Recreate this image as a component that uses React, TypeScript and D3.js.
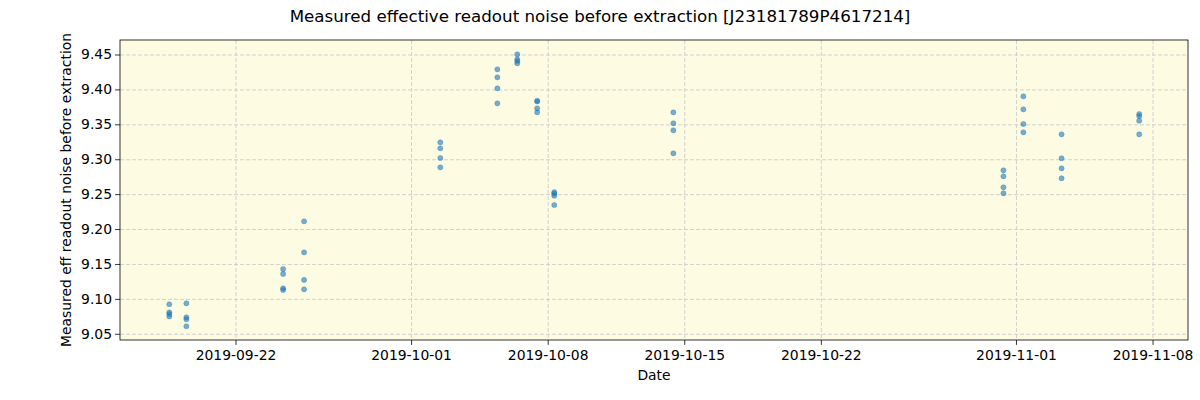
import React from "react";
import * as d3 from "d3";

const title = "Measured effective readout noise before extraction [J23181789P4617214]";
const xLabel = "Date";
const yLabel = "Measured eff readout noise before extraction";

const obsDates: string[] = [
  "2019-09-18T14:00", "2019-09-18T14:00", "2019-09-18T14:00", "2019-09-18T14:00",
  "2019-09-19T11:00", "2019-09-19T11:00", "2019-09-19T11:00", "2019-09-19T11:00",
  "2019-09-24T10:00", "2019-09-24T10:00", "2019-09-24T10:00", "2019-09-24T10:00",
  "2019-09-25T11:45", "2019-09-25T11:45", "2019-09-25T11:45", "2019-09-25T11:45",
  "2019-10-02T11:20", "2019-10-02T11:20", "2019-10-02T11:20", "2019-10-02T11:20",
  "2019-10-05T09:30", "2019-10-05T09:30", "2019-10-05T09:30", "2019-10-05T09:30",
  "2019-10-06T10:00", "2019-10-06T10:00", "2019-10-06T10:00", "2019-10-06T10:00",
  "2019-10-07T10:30", "2019-10-07T10:30", "2019-10-07T10:30", "2019-10-07T10:30",
  "2019-10-08T07:30", "2019-10-08T07:30", "2019-10-08T07:30", "2019-10-08T07:30",
  "2019-10-14T10:00", "2019-10-14T10:00", "2019-10-14T10:00", "2019-10-14T10:00",
  "2019-10-31T08:00", "2019-10-31T08:00", "2019-10-31T08:00", "2019-10-31T08:00",
  "2019-11-01T08:30", "2019-11-01T08:30", "2019-11-01T08:30", "2019-11-01T08:30",
  "2019-11-03T07:30", "2019-11-03T07:30", "2019-11-03T07:30", "2019-11-03T07:30",
  "2019-11-07T07:00", "2019-11-07T07:00", "2019-11-07T07:00", "2019-11-07T07:00",
];

const noiseValues: number[] = [
  9.093, 9.0815, 9.079, 9.0755,
  9.0944, 9.0743, 9.0715, 9.0615,
  9.1435, 9.1364, 9.1159, 9.1134,
  9.2118, 9.1674, 9.1278, 9.1144,
  9.3249, 9.3164, 9.3025, 9.2891,
  9.4295, 9.418, 9.4023, 9.3808,
  9.451, 9.4438, 9.4414, 9.4381,
  9.3845, 9.3834, 9.3736, 9.3679,
  9.2535, 9.2515, 9.2485, 9.2352,
  9.3679, 9.3522, 9.3421, 9.3092,
  9.2849, 9.2763, 9.2605, 9.2519,
  9.3908, 9.3722, 9.3512, 9.3393,
  9.3364, 9.302, 9.2877, 9.2734,
  9.3655, 9.3626, 9.3559, 9.3364,
];

const xTickDates: string[] = ["2019-09-22", "2019-10-01", "2019-10-08", "2019-10-15", "2019-10-22", "2019-11-01", "2019-11-08"];
const yTickValues: number[] = [9.05, 9.1, 9.15, 9.2, 9.25, 9.3, 9.35, 9.4, 9.45];

const xDomain: string[] = ["2019-09-16T01:20", "2019-11-09T19:00"];
const yDomain: number[] = [9.0418, 9.4715];

const W = 1200, H = 400;
const plot = { left: 120, right: 1188, top: 40, bottom: 340 };
const font = "DejaVu Sans, sans-serif";

export default function App() {
  const parse = (s: string) => new Date(s);
  const x = d3.scaleTime().domain(xDomain.map(parse)).range([plot.left, plot.right]);
  const y = d3.scaleLinear().domain(yDomain).range([plot.bottom, plot.top]);
  const pw = plot.right - plot.left, ph = plot.bottom - plot.top;
  const fmt = d3.format(".2f");
  return (
    <svg width={W} height={H} style={{ position: "absolute", left: 0, top: 0, background: "#fff" }} fontFamily={font}>
      <rect x={0} y={0} width={W} height={H} fill="#fff" />
      <rect x={plot.left} y={plot.top} width={pw} height={ph} fill="#fdfce3" />
      {xTickDates.map((d) => (
        <line key={"gx" + d} x1={x(parse(d))} x2={x(parse(d))} y1={plot.top} y2={plot.bottom}
          stroke="#d0d0d0" strokeWidth={1} strokeDasharray="4,2" />
      ))}
      {yTickValues.map((v) => (
        <line key={"gy" + v} x1={plot.left} x2={plot.right} y1={y(v)} y2={y(v)}
          stroke="#d0d0d0" strokeWidth={1} strokeDasharray="4,2" />
      ))}
      {noiseValues.map((v, i) => (
        <circle key={"p" + i} cx={x(parse(obsDates[i]))} cy={y(v)} r={2.6}
          fill="#1f77b4" fillOpacity={0.6} stroke="#1f77b4" strokeOpacity={0.6} strokeWidth={0.5} />
      ))}
      <rect x={plot.left} y={plot.top} width={pw} height={ph} fill="none" stroke="#000" strokeWidth={0.8} />
      {xTickDates.map((d) => (
        <g key={"tx" + d} transform={`translate(${x(parse(d))},${plot.bottom})`}>
          <line y1={0} y2={4.9} stroke="#000" strokeWidth={0.8} />
          <text y={20} textAnchor="middle" fontSize={13.9} fill="#000">{d}</text>
        </g>
      ))}
      {yTickValues.map((v) => (
        <g key={"ty" + v} transform={`translate(${plot.left},${y(v)})`}>
          <line x1={0} x2={-4.9} stroke="#000" strokeWidth={0.8} />
          <text x={-8} dy="0.32em" textAnchor="end" fontSize={13.9} fill="#000">{fmt(v)}</text>
        </g>
      ))}
      <text x={(plot.left + plot.right) / 2} y={380} textAnchor="middle" fontSize={13.9} fill="#000">{xLabel}</text>
      <text transform={`translate(71,${(plot.top + plot.bottom) / 2}) rotate(-90)`} textAnchor="middle" fontSize={13.9} fill="#000">{yLabel}</text>
      <text x={W / 2} y={22} textAnchor="middle" fontSize={16.7} fill="#000">{title}</text>
    </svg>
  );
}
